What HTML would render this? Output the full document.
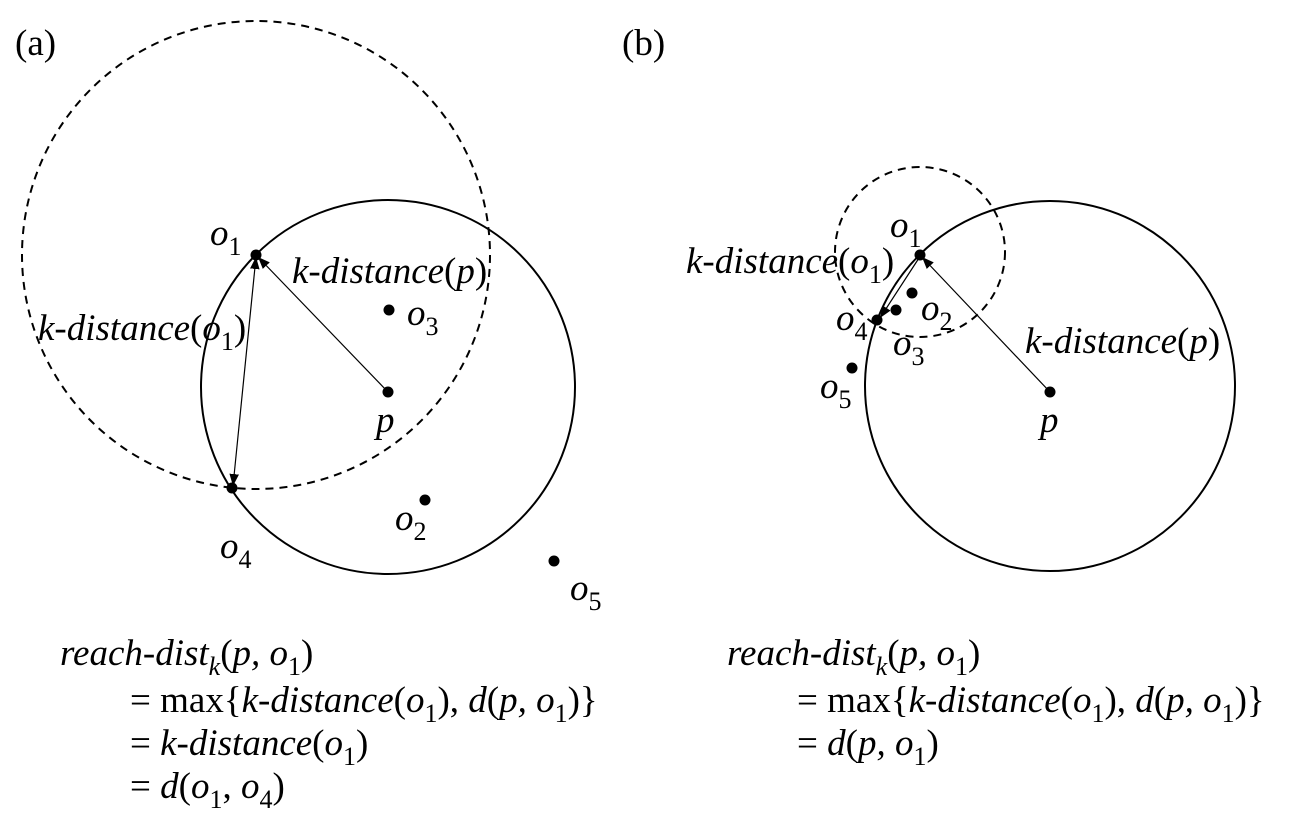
<!DOCTYPE html>
<html><head><meta charset="utf-8"><style>
html,body{margin:0;padding:0;background:#fff;}
svg{display:block;}
text{font-family:"Liberation Serif",serif;font-size:37px;fill:#000;}
.i{font-style:italic;}
.s{font-size:26px;font-style:normal;}
</style></head><body>
<svg width="1289" height="825" viewBox="0 0 1289 825" xmlns="http://www.w3.org/2000/svg">
<defs>
<marker id="ah" viewBox="0 0 10 10" refX="10" refY="5" markerWidth="12" markerHeight="12" markerUnits="userSpaceOnUse" orient="auto-start-reverse">
<path d="M0,1 L10,5 L0,9 Z" fill="#000"/>
</marker>
</defs>
<!-- (a) -->
<text x="15" y="55">(a)</text>
<circle cx="388" cy="387" r="187" fill="none" stroke="#000" stroke-width="2"/>
<circle cx="256" cy="255" r="234" fill="none" stroke="#000" stroke-width="2" stroke-dasharray="8,6"/>
<line x1="388" y1="392" x2="258" y2="257" stroke="#000" stroke-width="1.2" marker-end="url(#ah)"/>
<line x1="256" y1="257" x2="233" y2="486" stroke="#000" stroke-width="1.2" marker-start="url(#ah)" marker-end="url(#ah)"/>
<g fill="#000">
<circle cx="256" cy="255" r="5.5"/><circle cx="389" cy="310" r="5.5"/><circle cx="388" cy="392" r="5.5"/>
<circle cx="232" cy="488" r="5.5"/><circle cx="425" cy="500" r="5.5"/><circle cx="554" cy="561" r="5.5"/>
</g>
<text x="210" y="245" class="i">o<tspan class="s" dy="10">1</tspan></text>
<text x="292" y="283" class="i">k-distance<tspan style="font-style:normal">(</tspan>p<tspan style="font-style:normal">)</tspan></text>
<text x="407" y="325" class="i">o<tspan class="s" dy="10">3</tspan></text>
<text x="38" y="340" class="i">k-distance<tspan style="font-style:normal">(</tspan>o<tspan class="s" dy="10">1</tspan><tspan dy="-10" style="font-style:normal">)</tspan></text>
<text x="376" y="432" class="i">p</text>
<text x="220" y="558" class="i">o<tspan class="s" dy="10">4</tspan></text>
<text x="395" y="530" class="i">o<tspan class="s" dy="10">2</tspan></text>
<text x="570" y="600" class="i">o<tspan class="s" dy="10">5</tspan></text>
<text x="60" y="665"><tspan class="i">reach-dist</tspan><tspan class="s" style="font-style:italic" dy="10">k</tspan><tspan dy="-10">(</tspan><tspan class="i">p, o</tspan><tspan class="s" dy="10">1</tspan><tspan dy="-10">)</tspan></text>
<text x="130" y="712">= max{<tspan class="i">k-distance</tspan>(<tspan class="i">o</tspan><tspan class="s" dy="10">1</tspan><tspan dy="-10">), </tspan><tspan class="i">d</tspan>(<tspan class="i">p, o</tspan><tspan class="s" dy="10">1</tspan><tspan dy="-10">)}</tspan></text>
<text x="130" y="755">= <tspan class="i">k-distance</tspan>(<tspan class="i">o</tspan><tspan class="s" dy="10">1</tspan><tspan dy="-10">)</tspan></text>
<text x="130" y="798">= <tspan class="i">d</tspan>(<tspan class="i">o</tspan><tspan class="s" dy="10">1</tspan><tspan dy="-10">, </tspan><tspan class="i">o</tspan><tspan class="s" dy="10">4</tspan><tspan dy="-10">)</tspan></text>

<!-- (b) -->
<text x="622" y="55">(b)</text>
<circle cx="1050" cy="386" r="185" fill="none" stroke="#000" stroke-width="2"/>
<circle cx="920" cy="252" r="85" fill="none" stroke="#000" stroke-width="2" stroke-dasharray="8,6"/>
<line x1="1050" y1="392" x2="922" y2="257" stroke="#000" stroke-width="1.2" marker-end="url(#ah)"/>
<line x1="919" y1="258" x2="880" y2="318" stroke="#000" stroke-width="1.2" marker-end="url(#ah)"/>
<g fill="#000">
<circle cx="920" cy="255" r="5.5"/><circle cx="912" cy="293" r="5.5"/><circle cx="896" cy="310" r="5.5"/>
<circle cx="877" cy="320" r="5.5"/><circle cx="852" cy="368" r="5.5"/><circle cx="1050" cy="392" r="5.5"/>
</g>
<text x="890" y="237" class="i">o<tspan class="s" dy="10">1</tspan></text>
<text x="686" y="273" class="i">k-distance<tspan style="font-style:normal">(</tspan>o<tspan class="s" dy="10">1</tspan><tspan dy="-10" style="font-style:normal">)</tspan></text>
<text x="836" y="330" class="i">o<tspan class="s" dy="10">4</tspan></text>
<text x="921" y="320" class="i">o<tspan class="s" dy="10">2</tspan></text>
<text x="893" y="355" class="i">o<tspan class="s" dy="10">3</tspan></text>
<text x="820" y="398" class="i">o<tspan class="s" dy="10">5</tspan></text>
<text x="1025" y="353" class="i">k-distance<tspan style="font-style:normal">(</tspan>p<tspan style="font-style:normal">)</tspan></text>
<text x="1040" y="432" class="i">p</text>
<text x="727" y="665"><tspan class="i">reach-dist</tspan><tspan class="s" style="font-style:italic" dy="10">k</tspan><tspan dy="-10">(</tspan><tspan class="i">p, o</tspan><tspan class="s" dy="10">1</tspan><tspan dy="-10">)</tspan></text>
<text x="797" y="712">= max{<tspan class="i">k-distance</tspan>(<tspan class="i">o</tspan><tspan class="s" dy="10">1</tspan><tspan dy="-10">), </tspan><tspan class="i">d</tspan>(<tspan class="i">p, o</tspan><tspan class="s" dy="10">1</tspan><tspan dy="-10">)}</tspan></text>
<text x="797" y="755">= <tspan class="i">d</tspan>(<tspan class="i">p, o</tspan><tspan class="s" dy="10">1</tspan><tspan dy="-10">)</tspan></text>
</svg>
</body></html>
